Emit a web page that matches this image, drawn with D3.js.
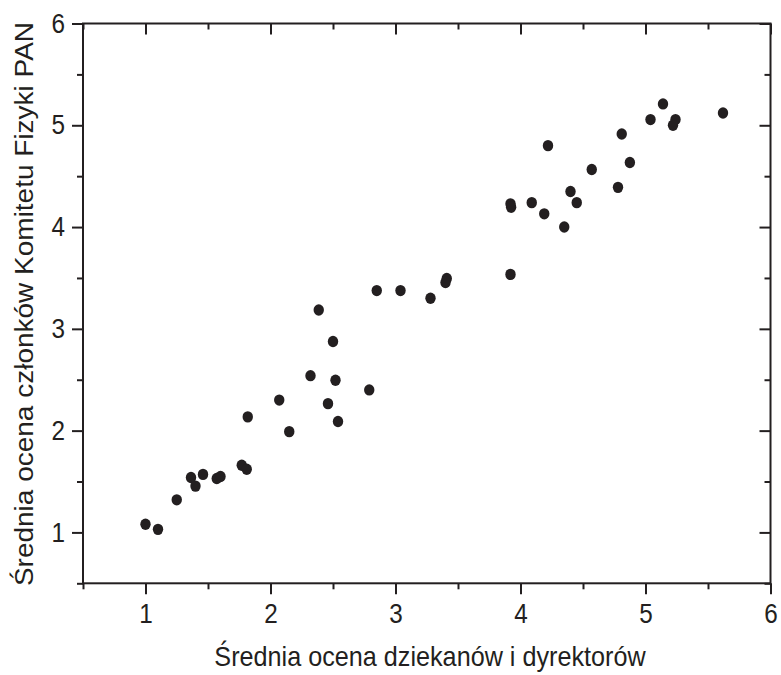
<!DOCTYPE html>
<html>
<head>
<meta charset="utf-8">
<script src="https://cdn.jsdelivr.net/npm/d3@7/dist/d3.min.js"></script>
<style>
  html, body { margin: 0; padding: 0; background: #fff; }
  svg { display: block; }
  text { font-family: "Liberation Sans", Arial, Helvetica, sans-serif; fill: #231f20; }
</style>
</head>
<body>
<svg id="chart" width="781" height="675"></svg>
<script>
// Data
const xValues = [4.81, 5.04, 5.14, 5.24, 5.22, 5.62,
  4.22, 4.875, 4.57, 4.40, 4.78, 3.92, 3.925, 4.09, 4.45, 4.19, 4.35,
  3.92, 3.41, 3.40, 2.85, 3.04, 3.28, 2.386, 2.50, 2.32, 2.52, 2.79,
  2.07, 2.46, 1.818, 2.15, 2.54, 1.77, 1.81, 1.364, 1.40, 1.46, 1.57, 1.60, 1.25, 1.0, 1.10];
const yValues = [4.915, 5.056, 5.21, 5.056, 5.00, 5.12,
  4.80, 4.635, 4.566, 4.35, 4.39, 4.228, 4.195, 4.24, 4.24, 4.13, 4.00,
  3.535, 3.495, 3.455, 3.376, 3.376, 3.30, 3.185, 2.876, 2.54, 2.495, 2.40,
  2.30, 2.265, 2.135, 1.99, 2.09, 1.66, 1.62, 1.54, 1.455, 1.57, 1.53, 1.55, 1.32, 1.08, 1.03];
const majorTicks = [1, 2, 3, 4, 5, 6];
const minorTicks = [0.5, 1.5, 2.5, 3.5, 4.5, 5.5];
const xTitle = "Średnia ocena dziekanów i dyrektorów";
const yTitle = "Średnia ocena członków Komitetu Fizyki PAN";

const color = "#231f20";
const squeeze = 0.9; // reference text is slightly narrowed horizontally
const svg = d3.select("#chart");
const pLeft = 83, pRight = 770.5, pTop = 23.5, pBottom = 583.3;

const x = d3.scaleLinear().domain([0.5, 6]).range([pLeft, pRight]);
const y = d3.scaleLinear().domain([0.5, 6]).range([pBottom, pTop]);

function styleAxis(g) {
  g.select(".domain").remove();
  g.selectAll("line").attr("stroke", color).attr("stroke-width", 2);
  g.selectAll("text").attr("fill", color).style("font-size", "27px");
}

// Bottom
svg.append("g").attr("transform", `translate(0,${pBottom})`)
  .call(d3.axisBottom(x).tickValues(majorTicks).tickSize(11).tickPadding(10).tickFormat(d3.format("d")))
  .call(styleAxis)
  .call(g => g.selectAll("text").attr("transform", `scale(${squeeze},1)`));
svg.append("g").attr("transform", `translate(0,${pBottom})`)
  .call(d3.axisBottom(x).tickValues(minorTicks).tickSize(6).tickFormat(""))
  .call(styleAxis);
// Top (inward)
svg.append("g").attr("transform", `translate(0,${pTop})`)
  .call(d3.axisTop(x).tickValues(majorTicks).tickSize(-11).tickFormat(""))
  .call(styleAxis);
svg.append("g").attr("transform", `translate(0,${pTop})`)
  .call(d3.axisTop(x).tickValues(minorTicks).tickSize(-6).tickFormat(""))
  .call(styleAxis);
// Left
svg.append("g").attr("transform", `translate(${pLeft},0)`)
  .call(d3.axisLeft(y).tickValues(majorTicks).tickSize(11).tickPadding(7).tickFormat(d3.format("d")))
  .call(styleAxis)
  .call(g => g.selectAll("text").attr("x", 0).attr("transform", `translate(-18,0) scale(${squeeze},1)`));
svg.append("g").attr("transform", `translate(${pLeft},0)`)
  .call(d3.axisLeft(y).tickValues(minorTicks).tickSize(6).tickFormat(""))
  .call(styleAxis);
// Right (inward)
svg.append("g").attr("transform", `translate(${pRight},0)`)
  .call(d3.axisRight(y).tickValues(majorTicks).tickSize(-11).tickFormat(""))
  .call(styleAxis);
svg.append("g").attr("transform", `translate(${pRight},0)`)
  .call(d3.axisRight(y).tickValues(minorTicks).tickSize(-6).tickFormat(""))
  .call(styleAxis);

// Frame
svg.append("rect")
  .attr("x", pLeft).attr("y", pTop)
  .attr("width", pRight - pLeft).attr("height", pBottom - pTop)
  .attr("fill", "none").attr("stroke", color).attr("stroke-width", 2);

// Points
const pts = xValues.map((v, i) => ({ x: v, y: yValues[i] }));
svg.append("g").selectAll("ellipse").data(pts).join("ellipse")
  .attr("cx", d => x(d.x)).attr("cy", d => y(d.y))
  .attr("rx", 5.2).attr("ry", 5.7)
  .attr("fill", color);

// Titles
svg.append("text")
  .attr("transform", `translate(430,666) scale(${squeeze},1)`)
  .attr("text-anchor", "middle")
  .style("font-size", "28px")
  .text(xTitle);
svg.append("text")
  .attr("transform", `translate(33,304) rotate(-90) scale(1,${squeeze})`)
  .attr("text-anchor", "middle")
  .style("font-size", "28px")
  .text(yTitle);
</script>
</body>
</html>
